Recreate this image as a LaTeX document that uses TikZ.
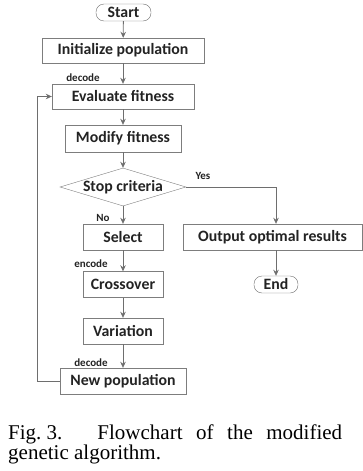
\documentclass[tikz,border=0pt]{standalone}
\usepackage{fontspec}
\setmainfont{Liberation Serif}
\newfontfamily\boxfont{Carlito}
\usetikzlibrary{shapes, arrows.meta, positioning}
\definecolor{linegray}{RGB}{110,110,110}
\definecolor{boxgray}{RGB}{125,125,125}
\definecolor{textdark}{RGB}{35,35,35}
\tikzstyle{startstop} = [rectangle, rounded corners=8pt, minimum width=55pt, minimum height=17pt, inner sep=0pt, text centered, draw=linegray, text=textdark, font=\boxfont\bfseries\fontsize{15.8}{18}\selectfont]
\tikzstyle{process} = [rectangle, minimum height=26pt, minimum width=80pt, inner sep=0pt, text centered, draw=boxgray, text=textdark, font=\boxfont\bfseries\fontsize{15.8}{18}\selectfont]
\tikzstyle{decision} = [diamond, aspect=3.3, minimum width=126pt, minimum height=38pt, inner sep=0pt, text centered, draw=boxgray, text=textdark, font=\boxfont\bfseries\fontsize{15.8}{18}\selectfont]
\tikzstyle{note} = [inner sep=0pt, text=textdark, font=\boxfont\bfseries\fontsize{11}{13}\selectfont]
\tikzstyle{captiontext} = [anchor=north west, inner sep=0pt, text width=334pt, align=justify, font=\fontsize{21}{19.5}\selectfont]
\tikzstyle{arrow} = [-{Stealth[length=6pt, width=5.5pt]}, draw=linegray, line width=0.8pt]

\begin{document}
\begin{tikzpicture}[x=1pt, y=-1pt, node distance=46pt]
\useasboundingbox (0,0) rectangle (363,471);
\node (start) [startstop] at (123.5,12.5) {Start};
\node (init) [process, minimum width=162pt, minimum height=25pt, below of=start, xshift=-0.5pt, yshift=8pt] {Initialize population};
\node (eval) [process, minimum width=142pt, minimum height=25pt, below of=init] {Evaluate fitness};
\node (modify) [process, minimum width=116pt, minimum height=27pt, below of=eval, yshift=4pt] {Modify fitness};
\node (crit) [decision, below of=modify, yshift=-2.5pt] {Stop criteria};
\node (select) [process, below of=crit, yshift=-4pt] {Select};
\node (cross) [process, below of=select, yshift=-1.5pt] {Crossover};
\node (var) [process, below of=cross, yshift=-0.5pt] {Variation};
\node (newpop) [process, minimum width=126pt, below of=var, yshift=-4pt] {New population};
\node (output) [process, minimum width=179pt, right of=select, xshift=103.5pt] {Output optimal results};
\node (finish) [startstop, minimum width=44pt, below of=output, xshift=3.5pt, yshift=-1.5pt] {End};

\node (dec1) [note, above of=eval, xshift=-40pt, yshift=-27.5pt] {decode};
\node (yes) [note, right of=crit, xshift=34pt, yshift=11pt] {Yes};
\node (no) [note, below of=crit, xshift=-20pt, yshift=15pt] {No};
\node (enc) [note, above of=cross, xshift=-32pt, yshift=-25.5pt] {encode};
\node (dec2) [note, above of=newpop, xshift=-32pt, yshift=-28pt] {decode};

\coordinate (loopx) at (37,0);
\node (caption) [captiontext] at (8,424.7) {\tolerance=10000 \hbadness=10000 \mbox{Fig.~3.}\hspace*{35pt}Flowchart of the modified genetic algorithm.};

\draw[arrow] (start) -- (init);
\draw[arrow] (init) -- (eval);
\draw[arrow] (eval) -- (modify);
\draw[arrow] (modify) -- (crit);
\draw[arrow] (crit) -- (select);
\draw[arrow] (select) -- (cross);
\draw[arrow] (cross) -- (var);
\draw[arrow] (var) -- (newpop);
\draw[arrow] (newpop.west) -- (newpop.west -| loopx) |- (eval.west);
\draw[arrow] (crit.east) -| (output.north -| finish);
\draw[arrow] (output.south -| finish) -- (finish);
\end{tikzpicture}
\end{document}
